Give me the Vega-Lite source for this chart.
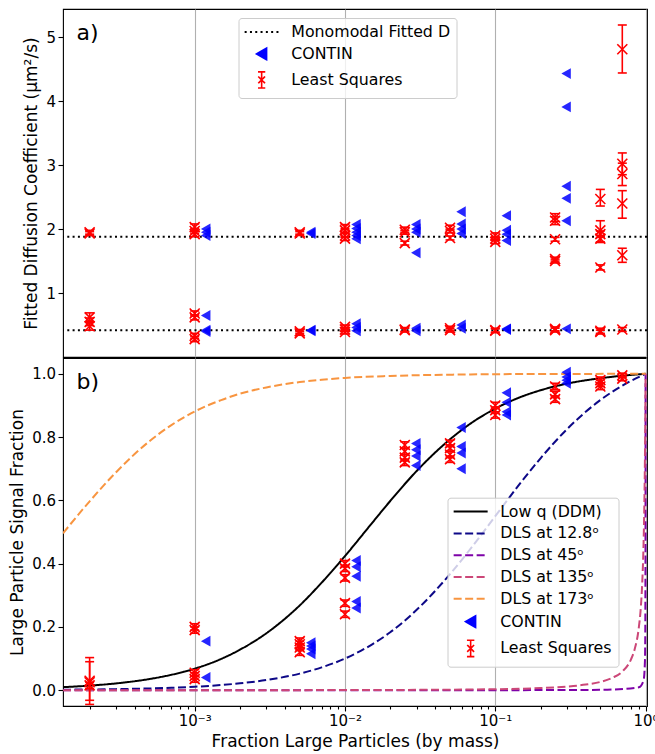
{
  "$schema": "https://vega.github.io/schema/vega-lite/v6.json",
  "background": "white",
  "padding": {"left": 8, "top": 8, "right": 5, "bottom": 5},
  "spacing": -1.1,
  "config": {
    "font": "DejaVu Sans",
    "view": {"stroke": "black", "strokeWidth": 1.1},
    "axis": {"labelFont": "DejaVu Sans", "labelFontSize": 15, "labelColor": "black", "titleFont": "DejaVu Sans", "titleFontSize": 17, "titleFontWeight": "normal", "titleColor": "black", "tickColor": "black", "tickWidth": 1.1, "tickSize": 5, "domain": false, "grid": false, "labelPadding": 2.5, "titlePadding": 5}
  },
  "datasets": {
    "mono": [
      {"series": "Monomodal Fitted D", "D": 1.88},
      {"series": "Monomodal Fitted D", "D": 0.42}
    ],
    "contA": [
      {"series": "CONTIN", "x": 0.001, "D": 2.0}, {"series": "CONTIN", "x": 0.001, "D": 1.95}, {"series": "CONTIN", "x": 0.001, "D": 1.9},
      {"series": "CONTIN", "x": 0.001, "D": 0.65}, {"series": "CONTIN", "x": 0.001, "D": 0.42}, {"series": "CONTIN", "x": 0.001, "D": 0.4},
      {"series": "CONTIN", "x": 0.005, "D": 1.95}, {"series": "CONTIN", "x": 0.005, "D": 1.93}, {"series": "CONTIN", "x": 0.005, "D": 0.42}, {"series": "CONTIN", "x": 0.005, "D": 0.41},
      {"series": "CONTIN", "x": 0.01, "D": 2.07}, {"series": "CONTIN", "x": 0.01, "D": 2.01}, {"series": "CONTIN", "x": 0.01, "D": 1.95}, {"series": "CONTIN", "x": 0.01, "D": 1.9}, {"series": "CONTIN", "x": 0.01, "D": 1.85},
      {"series": "CONTIN", "x": 0.01, "D": 0.52}, {"series": "CONTIN", "x": 0.01, "D": 0.46}, {"series": "CONTIN", "x": 0.01, "D": 0.41},
      {"series": "CONTIN", "x": 0.025, "D": 2.07}, {"series": "CONTIN", "x": 0.025, "D": 2.0}, {"series": "CONTIN", "x": 0.025, "D": 1.95}, {"series": "CONTIN", "x": 0.025, "D": 1.63},
      {"series": "CONTIN", "x": 0.025, "D": 0.45}, {"series": "CONTIN", "x": 0.025, "D": 0.41},
      {"series": "CONTIN", "x": 0.05, "D": 2.27}, {"series": "CONTIN", "x": 0.05, "D": 2.08}, {"series": "CONTIN", "x": 0.05, "D": 2.0}, {"series": "CONTIN", "x": 0.05, "D": 1.93},
      {"series": "CONTIN", "x": 0.05, "D": 0.5}, {"series": "CONTIN", "x": 0.05, "D": 0.45},
      {"series": "CONTIN", "x": 0.1, "D": 2.21}, {"series": "CONTIN", "x": 0.1, "D": 1.98}, {"series": "CONTIN", "x": 0.1, "D": 1.92}, {"series": "CONTIN", "x": 0.1, "D": 1.82},
      {"series": "CONTIN", "x": 0.1, "D": 0.44}, {"series": "CONTIN", "x": 0.1, "D": 0.43},
      {"series": "CONTIN", "x": 0.25, "D": 4.43}, {"series": "CONTIN", "x": 0.25, "D": 3.91}, {"series": "CONTIN", "x": 0.25, "D": 2.67}, {"series": "CONTIN", "x": 0.25, "D": 2.48}, {"series": "CONTIN", "x": 0.25, "D": 2.13},
      {"series": "CONTIN", "x": 0.25, "D": 0.44}
    ],
    "lsA": [
      {"series": "Least Squares", "x": 0.0002, "D": 1.95, "lo": 1.92, "hi": 1.98},
      {"series": "Least Squares", "x": 0.0002, "D": 1.93, "lo": 1.9, "hi": 1.96},
      {"series": "Least Squares", "x": 0.0002, "D": 0.62, "lo": 0.55, "hi": 0.69},
      {"series": "Least Squares", "x": 0.0002, "D": 0.55, "lo": 0.49, "hi": 0.61},
      {"series": "Least Squares", "x": 0.0002, "D": 0.48, "lo": 0.42, "hi": 0.54},
      {"series": "Least Squares", "x": 0.001, "D": 2.03, "lo": 1.98, "hi": 2.08},
      {"series": "Least Squares", "x": 0.001, "D": 1.97, "lo": 1.93, "hi": 2.01},
      {"series": "Least Squares", "x": 0.001, "D": 1.92, "lo": 1.88, "hi": 1.96},
      {"series": "Least Squares", "x": 0.001, "D": 0.68, "lo": 0.64, "hi": 0.72},
      {"series": "Least Squares", "x": 0.001, "D": 0.62, "lo": 0.58, "hi": 0.66},
      {"series": "Least Squares", "x": 0.001, "D": 0.33, "lo": 0.29, "hi": 0.37},
      {"series": "Least Squares", "x": 0.001, "D": 0.28, "lo": 0.24, "hi": 0.32},
      {"series": "Least Squares", "x": 0.005, "D": 1.95, "lo": 1.92, "hi": 1.98},
      {"series": "Least Squares", "x": 0.005, "D": 1.93, "lo": 1.9, "hi": 1.96},
      {"series": "Least Squares", "x": 0.005, "D": 0.4, "lo": 0.37, "hi": 0.43},
      {"series": "Least Squares", "x": 0.005, "D": 0.37, "lo": 0.34, "hi": 0.4},
      {"series": "Least Squares", "x": 0.01, "D": 2.03, "lo": 1.99, "hi": 2.07},
      {"series": "Least Squares", "x": 0.01, "D": 1.98, "lo": 1.95, "hi": 2.01},
      {"series": "Least Squares", "x": 0.01, "D": 1.9, "lo": 1.87, "hi": 1.93},
      {"series": "Least Squares", "x": 0.01, "D": 1.85, "lo": 1.82, "hi": 1.88},
      {"series": "Least Squares", "x": 0.01, "D": 0.47, "lo": 0.44, "hi": 0.5},
      {"series": "Least Squares", "x": 0.01, "D": 0.43, "lo": 0.4, "hi": 0.46},
      {"series": "Least Squares", "x": 0.01, "D": 0.39, "lo": 0.36, "hi": 0.42},
      {"series": "Least Squares", "x": 0.025, "D": 1.99, "lo": 1.95, "hi": 2.03},
      {"series": "Least Squares", "x": 0.025, "D": 1.95, "lo": 1.92, "hi": 1.98},
      {"series": "Least Squares", "x": 0.025, "D": 1.78, "lo": 1.75, "hi": 1.81},
      {"series": "Least Squares", "x": 0.025, "D": 0.43, "lo": 0.4, "hi": 0.46},
      {"series": "Least Squares", "x": 0.025, "D": 0.42, "lo": 0.39, "hi": 0.45},
      {"series": "Least Squares", "x": 0.05, "D": 2.02, "lo": 1.98, "hi": 2.06},
      {"series": "Least Squares", "x": 0.05, "D": 1.97, "lo": 1.94, "hi": 2.0},
      {"series": "Least Squares", "x": 0.05, "D": 1.86, "lo": 1.83, "hi": 1.89},
      {"series": "Least Squares", "x": 0.05, "D": 0.45, "lo": 0.42, "hi": 0.48},
      {"series": "Least Squares", "x": 0.05, "D": 0.42, "lo": 0.39, "hi": 0.45},
      {"series": "Least Squares", "x": 0.1, "D": 1.9, "lo": 1.86, "hi": 1.94},
      {"series": "Least Squares", "x": 0.1, "D": 1.85, "lo": 1.82, "hi": 1.88},
      {"series": "Least Squares", "x": 0.1, "D": 1.8, "lo": 1.77, "hi": 1.83},
      {"series": "Least Squares", "x": 0.1, "D": 0.42, "lo": 0.39, "hi": 0.45},
      {"series": "Least Squares", "x": 0.1, "D": 0.41, "lo": 0.38, "hi": 0.44},
      {"series": "Least Squares", "x": 0.25, "D": 2.18, "lo": 2.12, "hi": 2.24},
      {"series": "Least Squares", "x": 0.25, "D": 2.13, "lo": 2.07, "hi": 2.19},
      {"series": "Least Squares", "x": 0.25, "D": 1.84, "lo": 1.81, "hi": 1.87},
      {"series": "Least Squares", "x": 0.25, "D": 1.53, "lo": 1.5, "hi": 1.56},
      {"series": "Least Squares", "x": 0.25, "D": 1.5, "lo": 1.47, "hi": 1.53},
      {"series": "Least Squares", "x": 0.25, "D": 0.44, "lo": 0.41, "hi": 0.47},
      {"series": "Least Squares", "x": 0.25, "D": 0.42, "lo": 0.39, "hi": 0.45},
      {"series": "Least Squares", "x": 0.5, "D": 2.47, "lo": 2.36, "hi": 2.62},
      {"series": "Least Squares", "x": 0.5, "D": 1.98, "lo": 1.79, "hi": 2.13},
      {"series": "Least Squares", "x": 0.5, "D": 1.92, "lo": 1.87, "hi": 1.97},
      {"series": "Least Squares", "x": 0.5, "D": 1.85, "lo": 1.8, "hi": 1.9},
      {"series": "Least Squares", "x": 0.5, "D": 1.4, "lo": 1.36, "hi": 1.44},
      {"series": "Least Squares", "x": 0.5, "D": 0.41, "lo": 0.37, "hi": 0.45},
      {"series": "Least Squares", "x": 0.5, "D": 0.39, "lo": 0.36, "hi": 0.42},
      {"series": "Least Squares", "x": 0.7, "D": 4.81, "lo": 4.44, "hi": 5.19},
      {"series": "Least Squares", "x": 0.7, "D": 3.02, "lo": 2.85, "hi": 3.19},
      {"series": "Least Squares", "x": 0.7, "D": 2.86, "lo": 2.68, "hi": 3.03},
      {"series": "Least Squares", "x": 0.7, "D": 2.4, "lo": 2.17, "hi": 2.6},
      {"series": "Least Squares", "x": 0.7, "D": 1.59, "lo": 1.48, "hi": 1.7},
      {"series": "Least Squares", "x": 0.7, "D": 0.43, "lo": 0.4, "hi": 0.46}
    ],
    "curves": [
      {"series": "Low q (DDM)", "x": 0.000133, "f": 0.0096}, {"series": "Low q (DDM)", "x": 0.0002, "f": 0.0144},
      {"series": "Low q (DDM)", "x": 0.0003, "f": 0.0214}, {"series": "Low q (DDM)", "x": 0.0005, "f": 0.0352},
      {"series": "Low q (DDM)", "x": 0.0007, "f": 0.0487}, {"series": "Low q (DDM)", "x": 0.001, "f": 0.068},
      {"series": "Low q (DDM)", "x": 0.0015, "f": 0.0988}, {"series": "Low q (DDM)", "x": 0.002, "f": 0.128},
      {"series": "Low q (DDM)", "x": 0.003, "f": 0.18}, {"series": "Low q (DDM)", "x": 0.005, "f": 0.268},
      {"series": "Low q (DDM)", "x": 0.007, "f": 0.34}, {"series": "Low q (DDM)", "x": 0.01, "f": 0.424},
      {"series": "Low q (DDM)", "x": 0.015, "f": 0.526}, {"series": "Low q (DDM)", "x": 0.02, "f": 0.598},
      {"series": "Low q (DDM)", "x": 0.03, "f": 0.693}, {"series": "Low q (DDM)", "x": 0.05, "f": 0.793},
      {"series": "Low q (DDM)", "x": 0.07, "f": 0.846}, {"series": "Low q (DDM)", "x": 0.1, "f": 0.89},
      {"series": "Low q (DDM)", "x": 0.15, "f": 0.928}, {"series": "Low q (DDM)", "x": 0.2, "f": 0.948},
      {"series": "Low q (DDM)", "x": 0.3, "f": 0.969}, {"series": "Low q (DDM)", "x": 0.5, "f": 0.986},
      {"series": "Low q (DDM)", "x": 0.7, "f": 0.994}, {"series": "Low q (DDM)", "x": 1, "f": 1},
      {"series": "DLS at 12.8ᵒ", "x": 0.000133, "f": 0.0015}, {"series": "DLS at 12.8ᵒ", "x": 0.0002, "f": 0.0022},
      {"series": "DLS at 12.8ᵒ", "x": 0.0003, "f": 0.0033}, {"series": "DLS at 12.8ᵒ", "x": 0.0005, "f": 0.0055},
      {"series": "DLS at 12.8ᵒ", "x": 0.0007, "f": 0.0077}, {"series": "DLS at 12.8ᵒ", "x": 0.001, "f": 0.0109},
      {"series": "DLS at 12.8ᵒ", "x": 0.0015, "f": 0.0163}, {"series": "DLS at 12.8ᵒ", "x": 0.002, "f": 0.0216},
      {"series": "DLS at 12.8ᵒ", "x": 0.003, "f": 0.032}, {"series": "DLS at 12.8ᵒ", "x": 0.005, "f": 0.0524},
      {"series": "DLS at 12.8ᵒ", "x": 0.007, "f": 0.0721}, {"series": "DLS at 12.8ᵒ", "x": 0.01, "f": 0.1},
      {"series": "DLS at 12.8ᵒ", "x": 0.015, "f": 0.1435}, {"series": "DLS at 12.8ᵒ", "x": 0.02, "f": 0.183},
      {"series": "DLS at 12.8ᵒ", "x": 0.03, "f": 0.254}, {"series": "DLS at 12.8ᵒ", "x": 0.05, "f": 0.367},
      {"series": "DLS at 12.8ᵒ", "x": 0.07, "f": 0.453}, {"series": "DLS at 12.8ᵒ", "x": 0.1, "f": 0.55},
      {"series": "DLS at 12.8ᵒ", "x": 0.15, "f": 0.66}, {"series": "DLS at 12.8ᵒ", "x": 0.2, "f": 0.733},
      {"series": "DLS at 12.8ᵒ", "x": 0.3, "f": 0.825}, {"series": "DLS at 12.8ᵒ", "x": 0.5, "f": 0.917},
      {"series": "DLS at 12.8ᵒ", "x": 0.7, "f": 0.9625}, {"series": "DLS at 12.8ᵒ", "x": 1, "f": 1},
      {"series": "DLS at 45ᵒ", "x": 0.000133, "f": 0}, {"series": "DLS at 45ᵒ", "x": 0.1, "f": 0.0001},
      {"series": "DLS at 45ᵒ", "x": 0.5, "f": 0.001}, {"series": "DLS at 45ᵒ", "x": 0.9, "f": 0.0089},
      {"series": "DLS at 45ᵒ", "x": 0.97, "f": 0.031}, {"series": "DLS at 45ᵒ", "x": 0.99, "f": 0.09},
      {"series": "DLS at 45ᵒ", "x": 0.995, "f": 0.166}, {"series": "DLS at 45ᵒ", "x": 0.999, "f": 0.5},
      {"series": "DLS at 45ᵒ", "x": 0.9995, "f": 0.67}, {"series": "DLS at 45ᵒ", "x": 1, "f": 1},
      {"series": "DLS at 135ᵒ", "x": 0.000133, "f": 0}, {"series": "DLS at 135ᵒ", "x": 0.001, "f": 0.00003},
      {"series": "DLS at 135ᵒ", "x": 0.01, "f": 0.0003}, {"series": "DLS at 135ᵒ", "x": 0.1, "f": 0.003},
      {"series": "DLS at 135ᵒ", "x": 0.2, "f": 0.0067}, {"series": "DLS at 135ᵒ", "x": 0.3, "f": 0.0114},
      {"series": "DLS at 135ᵒ", "x": 0.4, "f": 0.0177}, {"series": "DLS at 135ᵒ", "x": 0.5, "f": 0.026},
      {"series": "DLS at 135ᵒ", "x": 0.6, "f": 0.039}, {"series": "DLS at 135ᵒ", "x": 0.7, "f": 0.059},
      {"series": "DLS at 135ᵒ", "x": 0.8, "f": 0.0975}, {"series": "DLS at 135ᵒ", "x": 0.85, "f": 0.133},
      {"series": "DLS at 135ᵒ", "x": 0.9, "f": 0.195}, {"series": "DLS at 135ᵒ", "x": 0.93, "f": 0.263},
      {"series": "DLS at 135ᵒ", "x": 0.95, "f": 0.339}, {"series": "DLS at 135ᵒ", "x": 0.97, "f": 0.466},
      {"series": "DLS at 135ᵒ", "x": 0.98, "f": 0.57}, {"series": "DLS at 135ᵒ", "x": 0.99, "f": 0.728},
      {"series": "DLS at 135ᵒ", "x": 0.995, "f": 0.843}, {"series": "DLS at 135ᵒ", "x": 1, "f": 1},
      {"series": "DLS at 173ᵒ", "x": 0.000133, "f": 0.496}, {"series": "DLS at 173ᵒ", "x": 0.0002, "f": 0.597},
      {"series": "DLS at 173ᵒ", "x": 0.0003, "f": 0.689}, {"series": "DLS at 173ᵒ", "x": 0.0005, "f": 0.787},
      {"series": "DLS at 173ᵒ", "x": 0.0007, "f": 0.838}, {"series": "DLS at 173ᵒ", "x": 0.001, "f": 0.881},
      {"series": "DLS at 173ᵒ", "x": 0.0015, "f": 0.917}, {"series": "DLS at 173ᵒ", "x": 0.002, "f": 0.937},
      {"series": "DLS at 173ᵒ", "x": 0.003, "f": 0.957}, {"series": "DLS at 173ᵒ", "x": 0.005, "f": 0.974},
      {"series": "DLS at 173ᵒ", "x": 0.007, "f": 0.981}, {"series": "DLS at 173ᵒ", "x": 0.01, "f": 0.987},
      {"series": "DLS at 173ᵒ", "x": 0.02, "f": 0.9933}, {"series": "DLS at 173ᵒ", "x": 0.05, "f": 0.9973},
      {"series": "DLS at 173ᵒ", "x": 0.1, "f": 0.9988}, {"series": "DLS at 173ᵒ", "x": 0.3, "f": 0.9996},
      {"series": "DLS at 173ᵒ", "x": 1, "f": 1}
    ],
    "contB": [
      {"series": "CONTIN", "x": 0.001, "f": 0.155}, {"series": "CONTIN", "x": 0.001, "f": 0.04},
      {"series": "CONTIN", "x": 0.005, "f": 0.15}, {"series": "CONTIN", "x": 0.005, "f": 0.14}, {"series": "CONTIN", "x": 0.005, "f": 0.13}, {"series": "CONTIN", "x": 0.005, "f": 0.115},
      {"series": "CONTIN", "x": 0.01, "f": 0.41}, {"series": "CONTIN", "x": 0.01, "f": 0.39}, {"series": "CONTIN", "x": 0.01, "f": 0.36}, {"series": "CONTIN", "x": 0.01, "f": 0.28}, {"series": "CONTIN", "x": 0.01, "f": 0.26},
      {"series": "CONTIN", "x": 0.025, "f": 0.78}, {"series": "CONTIN", "x": 0.025, "f": 0.76}, {"series": "CONTIN", "x": 0.025, "f": 0.74}, {"series": "CONTIN", "x": 0.025, "f": 0.71},
      {"series": "CONTIN", "x": 0.05, "f": 0.83}, {"series": "CONTIN", "x": 0.05, "f": 0.77}, {"series": "CONTIN", "x": 0.05, "f": 0.75}, {"series": "CONTIN", "x": 0.05, "f": 0.7},
      {"series": "CONTIN", "x": 0.1, "f": 0.94}, {"series": "CONTIN", "x": 0.1, "f": 0.91}, {"series": "CONTIN", "x": 0.1, "f": 0.88}, {"series": "CONTIN", "x": 0.1, "f": 0.87},
      {"series": "CONTIN", "x": 0.25, "f": 1.005}, {"series": "CONTIN", "x": 0.25, "f": 0.99}, {"series": "CONTIN", "x": 0.25, "f": 0.98}, {"series": "CONTIN", "x": 0.25, "f": 0.97}
    ],
    "lsB": [
      {"series": "Least Squares", "x": 0.0002, "f": 0.03, "lo": -0.045, "hi": 0.103},
      {"series": "Least Squares", "x": 0.0002, "f": 0.025, "lo": -0.032, "hi": 0.09},
      {"series": "Least Squares", "x": 0.0002, "f": 0.015, "lo": 0.005, "hi": 0.025},
      {"series": "Least Squares", "x": 0.001, "f": 0.2, "lo": 0.19, "hi": 0.21},
      {"series": "Least Squares", "x": 0.001, "f": 0.19, "lo": 0.18, "hi": 0.2},
      {"series": "Least Squares", "x": 0.001, "f": 0.055, "lo": 0.045, "hi": 0.065},
      {"series": "Least Squares", "x": 0.001, "f": 0.045, "lo": 0.035, "hi": 0.055},
      {"series": "Least Squares", "x": 0.001, "f": 0.035, "lo": 0.025, "hi": 0.045},
      {"series": "Least Squares", "x": 0.005, "f": 0.155, "lo": 0.145, "hi": 0.165},
      {"series": "Least Squares", "x": 0.005, "f": 0.145, "lo": 0.135, "hi": 0.155},
      {"series": "Least Squares", "x": 0.005, "f": 0.135, "lo": 0.125, "hi": 0.145},
      {"series": "Least Squares", "x": 0.005, "f": 0.12, "lo": 0.11, "hi": 0.13},
      {"series": "Least Squares", "x": 0.01, "f": 0.4, "lo": 0.39, "hi": 0.41},
      {"series": "Least Squares", "x": 0.01, "f": 0.385, "lo": 0.375, "hi": 0.395},
      {"series": "Least Squares", "x": 0.01, "f": 0.355, "lo": 0.345, "hi": 0.365},
      {"series": "Least Squares", "x": 0.01, "f": 0.275, "lo": 0.265, "hi": 0.285},
      {"series": "Least Squares", "x": 0.01, "f": 0.24, "lo": 0.23, "hi": 0.25},
      {"series": "Least Squares", "x": 0.025, "f": 0.775, "lo": 0.765, "hi": 0.785},
      {"series": "Least Squares", "x": 0.025, "f": 0.755, "lo": 0.745, "hi": 0.765},
      {"series": "Least Squares", "x": 0.025, "f": 0.735, "lo": 0.725, "hi": 0.745},
      {"series": "Least Squares", "x": 0.025, "f": 0.72, "lo": 0.71, "hi": 0.73},
      {"series": "Least Squares", "x": 0.05, "f": 0.78, "lo": 0.77, "hi": 0.79},
      {"series": "Least Squares", "x": 0.05, "f": 0.765, "lo": 0.755, "hi": 0.775},
      {"series": "Least Squares", "x": 0.05, "f": 0.745, "lo": 0.735, "hi": 0.755},
      {"series": "Least Squares", "x": 0.05, "f": 0.73, "lo": 0.72, "hi": 0.74},
      {"series": "Least Squares", "x": 0.1, "f": 0.9, "lo": 0.89, "hi": 0.91},
      {"series": "Least Squares", "x": 0.1, "f": 0.885, "lo": 0.875, "hi": 0.895},
      {"series": "Least Squares", "x": 0.1, "f": 0.87, "lo": 0.86, "hi": 0.88},
      {"series": "Least Squares", "x": 0.25, "f": 0.96, "lo": 0.95, "hi": 0.97},
      {"series": "Least Squares", "x": 0.25, "f": 0.935, "lo": 0.925, "hi": 0.945},
      {"series": "Least Squares", "x": 0.25, "f": 0.92, "lo": 0.91, "hi": 0.93},
      {"series": "Least Squares", "x": 0.5, "f": 0.98, "lo": 0.97, "hi": 0.99},
      {"series": "Least Squares", "x": 0.5, "f": 0.97, "lo": 0.96, "hi": 0.98},
      {"series": "Least Squares", "x": 0.5, "f": 0.96, "lo": 0.95, "hi": 0.97},
      {"series": "Least Squares", "x": 0.7, "f": 0.995, "lo": 0.988, "hi": 1.002},
      {"series": "Least Squares", "x": 0.7, "f": 0.985, "lo": 0.978, "hi": 0.992}
    ]
  },
  "resolve": {"scale": {"x": "independent", "y": "independent", "color": "independent"}},
  "vconcat": [
    {
      "width": 584,
      "height": 348,
      "layer": [
        {
          "data": {"name": "mono"},
          "mark": {"type": "rule", "strokeDash": [2, 3.3], "strokeWidth": 2},
          "encoding": {
            "y": {"field": "D", "type": "quantitative", "scale": {"domain": [0, 5.44], "nice": false, "zero": false}, "axis": {"values": [1, 2, 3, 4, 5], "format": "d", "title": "Fitted Diffusion Coefficient (μm²/s)"}},
            "color": {"field": "series", "type": "nominal", "scale": {"domain": ["Monomodal Fitted D", "CONTIN", "Least Squares"], "range": ["black", "#0000ff", "#ff0000"]},
              "legend": {"orient": "none", "legendX": 175.5, "legendY": 9, "title": null, "symbolSize": 1156, "symbolOffset": 9.25, "labelOffset": 21.75, "labelFontSize": 15.8, "labelFont": "DejaVu Sans", "labelColor": "black", "padding": 6, "rowPadding": 4, "strokeColor": "#cccccc", "fillColor": "rgba(255,255,255,0.8)", "cornerRadius": 3, "labelLimit": 400,
                "encode": {"symbols": {"update": {
                  "shape": {"signal": "datum.value === 'CONTIN' ? 'triangle-left' : datum.value === 'Least Squares' ? 'M0,-1L0,1M-0.45,-1L0.45,-1M-0.45,1L0.45,1M-0.42,-0.42L0.42,0.42M-0.42,0.42L0.42,-0.42' : 'stroke'"},
                  "size": {"signal": "datum.value === 'CONTIN' ? 120 : datum.value === 'Least Squares' ? 260 : 1156"},
                  "fill": {"signal": "datum.value === 'CONTIN' ? '#0000ff' : 'transparent'"},
                  "stroke": {"signal": "datum.value === 'CONTIN' ? 'transparent' : datum.value === 'Least Squares' ? '#ff0000' : 'black'"},
                  "strokeDash": {"signal": "datum.value === 'Monomodal Fitted D' ? [2, 3.3] : [1, 0]"},
                  "strokeWidth": {"signal": "datum.value === 'Least Squares' ? 1.6 : 2"},
                  "opacity": {"value": 1}
                }}}
              }
            }
          }
        },
        {
          "data": {"name": "contA"},
          "mark": {"type": "point", "shape": "triangle-left", "filled": true, "size": 120, "opacity": 0.85},
          "encoding": {
            "x": {"field": "x", "type": "quantitative", "scale": {"type": "log", "domain": [0.000133, 1.022], "nice": false}, "axis": {"values": [0.001, 0.01, 0.1, 1], "grid": true, "gridColor": "#b0b0b0", "gridWidth": 1.1, "labels": false, "ticks": false, "domain": false, "title": null}},
            "xOffset": {"value": 11},
            "y": {"field": "D", "type": "quantitative", "scale": {"domain": [0, 5.44], "nice": false, "zero": false}, "axis": {"values": [1, 2, 3, 4, 5], "format": "d", "title": "Fitted Diffusion Coefficient (μm²/s)"}},
            "color": {"field": "series", "type": "nominal", "scale": {"domain": ["Monomodal Fitted D", "CONTIN", "Least Squares"], "range": ["black", "#0000ff", "#ff0000"]}}
          }
        },
        {
          "data": {"name": "lsA"},
          "mark": {"type": "rule", "strokeWidth": 1.6},
          "encoding": {
            "x": {"field": "x", "type": "quantitative", "scale": {"type": "log", "domain": [0.000133, 1.022], "nice": false}, "axis": {"values": [0.001, 0.01, 0.1, 1], "grid": true, "gridColor": "#b0b0b0", "gridWidth": 1.1, "labels": false, "ticks": false, "domain": false, "title": null}},
            "y": {"field": "lo", "type": "quantitative", "scale": {"domain": [0, 5.44], "nice": false, "zero": false}, "axis": {"values": [1, 2, 3, 4, 5], "format": "d", "title": "Fitted Diffusion Coefficient (μm²/s)"}},
            "y2": {"field": "hi"},
            "color": {"field": "series", "type": "nominal", "scale": {"domain": ["Monomodal Fitted D", "CONTIN", "Least Squares"], "range": ["black", "#0000ff", "#ff0000"]}}
          }
        },
        {
          "data": {"name": "lsA"},
          "mark": {"type": "tick", "orient": "horizontal", "size": 9, "thickness": 1.6, "opacity": 1},
          "encoding": {
            "x": {"field": "x", "type": "quantitative", "scale": {"type": "log", "domain": [0.000133, 1.022], "nice": false}, "axis": {"values": [0.001, 0.01, 0.1, 1], "grid": true, "gridColor": "#b0b0b0", "gridWidth": 1.1, "labels": false, "ticks": false, "domain": false, "title": null}},
            "y": {"field": "lo", "type": "quantitative", "scale": {"domain": [0, 5.44], "nice": false, "zero": false}, "axis": {"values": [1, 2, 3, 4, 5], "format": "d", "title": "Fitted Diffusion Coefficient (μm²/s)"}},
            "color": {"field": "series", "type": "nominal", "scale": {"domain": ["Monomodal Fitted D", "CONTIN", "Least Squares"], "range": ["black", "#0000ff", "#ff0000"]}}
          }
        },
        {
          "data": {"name": "lsA"},
          "mark": {"type": "tick", "orient": "horizontal", "size": 9, "thickness": 1.6, "opacity": 1},
          "encoding": {
            "x": {"field": "x", "type": "quantitative", "scale": {"type": "log", "domain": [0.000133, 1.022], "nice": false}, "axis": {"values": [0.001, 0.01, 0.1, 1], "grid": true, "gridColor": "#b0b0b0", "gridWidth": 1.1, "labels": false, "ticks": false, "domain": false, "title": null}},
            "y": {"field": "hi", "type": "quantitative", "scale": {"domain": [0, 5.44], "nice": false, "zero": false}, "axis": {"values": [1, 2, 3, 4, 5], "format": "d", "title": "Fitted Diffusion Coefficient (μm²/s)"}},
            "color": {"field": "series", "type": "nominal", "scale": {"domain": ["Monomodal Fitted D", "CONTIN", "Least Squares"], "range": ["black", "#0000ff", "#ff0000"]}}
          }
        },
        {
          "data": {"name": "lsA"},
          "mark": {"type": "point", "shape": "M-1,-1L1,1M-1,1L1,-1", "filled": false, "size": 100, "strokeWidth": 1.6, "opacity": 1},
          "encoding": {
            "x": {"field": "x", "type": "quantitative", "scale": {"type": "log", "domain": [0.000133, 1.022], "nice": false}, "axis": {"values": [0.001, 0.01, 0.1, 1], "grid": true, "gridColor": "#b0b0b0", "gridWidth": 1.1, "labels": false, "ticks": false, "domain": false, "title": null}},
            "y": {"field": "D", "type": "quantitative", "scale": {"domain": [0, 5.44], "nice": false, "zero": false}, "axis": {"values": [1, 2, 3, 4, 5], "format": "d", "title": "Fitted Diffusion Coefficient (μm²/s)"}},
            "color": {"field": "series", "type": "nominal", "scale": {"domain": ["Monomodal Fitted D", "CONTIN", "Least Squares"], "range": ["black", "#0000ff", "#ff0000"]}}
          }
        },
        {
          "data": {"values": [{"label": "a)"}]},
          "mark": {"type": "text", "fontSize": 22, "font": "DejaVu Sans", "align": "left", "baseline": "alphabetic", "color": "black"},
          "encoding": {
            "x": {"datum": 0.0001637, "type": "quantitative", "scale": {"type": "log", "domain": [0.000133, 1.022], "nice": false}},
            "y": {"datum": 4.95, "type": "quantitative", "scale": {"domain": [0, 5.44], "nice": false, "zero": false}},
            "text": {"field": "label"}
          }
        }
      ]
    },
    {
      "width": 584,
      "height": 348,
      "layer": [
        {
          "data": {"name": "curves"},
          "mark": {"type": "line", "strokeWidth": 2, "clip": true, "interpolate": "monotone"},
          "encoding": {
            "x": {"field": "x", "type": "quantitative", "scale": {"type": "log", "domain": [0.000133, 1.022], "nice": false},
              "axis": {"values": [0.0002, 0.0003, 0.0004, 0.0005, 0.0006, 0.0007, 0.0008, 0.0009, 0.001, 0.002, 0.003, 0.004, 0.005, 0.006, 0.007, 0.008, 0.009, 0.01, 0.02, 0.03, 0.04, 0.05, 0.06, 0.07, 0.08, 0.09, 0.1, 0.2, 0.3, 0.4, 0.5, 0.6, 0.7, 0.8, 0.9, 1],
                "grid": true, "gridColor": "#b0b0b0", "gridWidth": 1.1,
                "gridOpacity": {"condition": {"test": "abs(log(datum.value)/LN10 - round(log(datum.value)/LN10)) < 0.001", "value": 1}, "value": 0},
                "tickSize": {"condition": {"test": "abs(log(datum.value)/LN10 - round(log(datum.value)/LN10)) < 0.001", "value": 5}, "value": 3},
                "labelExpr": "datum.value > 0.00099 && datum.value < 0.00101 ? '10⁻³' : datum.value > 0.0099 && datum.value < 0.0101 ? '10⁻²' : datum.value > 0.099 && datum.value < 0.101 ? '10⁻¹' : datum.value > 0.99 && datum.value < 1.01 ? '10⁰' : ''",
                "labelOverlap": false, "labelFlush": false, "labelBound": false, "domain": false, "title": "Fraction Large Particles (by mass)"}},
            "y": {"field": "f", "type": "quantitative", "scale": {"domain": [-0.05, 1.05], "nice": false, "zero": false}, "axis": {"values": [0, 0.2, 0.4, 0.6, 0.8, 1], "format": ".1f", "title": "Large Particle Signal Fraction"}},
            "strokeDash": {"field": "series", "type": "nominal", "scale": {"domain": ["Low q (DDM)", "DLS at 12.8ᵒ", "DLS at 45ᵒ", "DLS at 135ᵒ", "DLS at 173ᵒ"], "range": [[1, 0], [8, 3.5], [8, 3.5], [8, 3.5], [8, 3.5]]}, "legend": null},
            "color": {"field": "series", "type": "nominal", "scale": {"domain": ["Low q (DDM)", "DLS at 12.8ᵒ", "DLS at 45ᵒ", "DLS at 135ᵒ", "DLS at 173ᵒ", "CONTIN", "Least Squares"], "range": ["black", "#0d0887", "#7e03a8", "#cc4778", "#f89540", "#0000ff", "#ff0000"]},
              "legend": {"orient": "none", "legendX": 384.5, "legendY": 139.7, "title": null, "symbolSize": 1156, "symbolOffset": 9.25, "labelOffset": 21.75, "labelFontSize": 15.8, "labelFont": "DejaVu Sans", "labelColor": "black", "padding": 6, "rowPadding": 4.8, "strokeColor": "#cccccc", "fillColor": "rgba(255,255,255,0.8)", "cornerRadius": 3, "labelLimit": 400,
                "encode": {"symbols": {"update": {
                  "shape": {"signal": "datum.value === 'CONTIN' ? 'triangle-left' : datum.value === 'Least Squares' ? 'M0,-1L0,1M-0.45,-1L0.45,-1M-0.45,1L0.45,1M-0.42,-0.42L0.42,0.42M-0.42,0.42L0.42,-0.42' : 'stroke'"},
                  "size": {"signal": "datum.value === 'CONTIN' ? 120 : datum.value === 'Least Squares' ? 270 : 1156"},
                  "fill": {"signal": "datum.value === 'CONTIN' ? '#0000ff' : 'transparent'"},
                  "stroke": {"signal": "datum.value === 'Low q (DDM)' ? 'black' : datum.value === 'DLS at 12.8ᵒ' ? '#0d0887' : datum.value === 'DLS at 45ᵒ' ? '#7e03a8' : datum.value === 'DLS at 135ᵒ' ? '#cc4778' : datum.value === 'DLS at 173ᵒ' ? '#f89540' : datum.value === 'CONTIN' ? 'transparent' : '#ff0000'"},
                  "strokeDash": {"signal": "indexof(datum.value, 'DLS') === 0 ? [8, 3.5] : [1, 0]"},
                  "strokeWidth": {"signal": "datum.value === 'Least Squares' ? 1.6 : 2"},
                  "opacity": {"value": 1}
                }}}
              }
            }
          }
        },
        {
          "data": {"name": "contB"},
          "mark": {"type": "point", "shape": "triangle-left", "filled": true, "size": 120, "opacity": 0.85},
          "encoding": {
            "x": {"field": "x", "type": "quantitative", "scale": {"type": "log", "domain": [0.000133, 1.022], "nice": false}},
            "xOffset": {"value": 11},
            "y": {"field": "f", "type": "quantitative", "scale": {"domain": [-0.05, 1.05], "nice": false, "zero": false}},
            "color": {"field": "series", "type": "nominal", "scale": {"domain": ["Low q (DDM)", "DLS at 12.8ᵒ", "DLS at 45ᵒ", "DLS at 135ᵒ", "DLS at 173ᵒ", "CONTIN", "Least Squares"], "range": ["black", "#0d0887", "#7e03a8", "#cc4778", "#f89540", "#0000ff", "#ff0000"]}}
          }
        },
        {
          "data": {"name": "lsB"},
          "mark": {"type": "rule", "strokeWidth": 1.6},
          "encoding": {
            "x": {"field": "x", "type": "quantitative", "scale": {"type": "log", "domain": [0.000133, 1.022], "nice": false}},
            "y": {"field": "lo", "type": "quantitative", "scale": {"domain": [-0.05, 1.05], "nice": false, "zero": false}},
            "y2": {"field": "hi"},
            "color": {"field": "series", "type": "nominal", "scale": {"domain": ["Low q (DDM)", "DLS at 12.8ᵒ", "DLS at 45ᵒ", "DLS at 135ᵒ", "DLS at 173ᵒ", "CONTIN", "Least Squares"], "range": ["black", "#0d0887", "#7e03a8", "#cc4778", "#f89540", "#0000ff", "#ff0000"]}}
          }
        },
        {
          "data": {"name": "lsB"},
          "mark": {"type": "tick", "orient": "horizontal", "size": 9, "thickness": 1.6, "opacity": 1},
          "encoding": {
            "x": {"field": "x", "type": "quantitative", "scale": {"type": "log", "domain": [0.000133, 1.022], "nice": false}},
            "y": {"field": "lo", "type": "quantitative", "scale": {"domain": [-0.05, 1.05], "nice": false, "zero": false}},
            "color": {"field": "series", "type": "nominal", "scale": {"domain": ["Low q (DDM)", "DLS at 12.8ᵒ", "DLS at 45ᵒ", "DLS at 135ᵒ", "DLS at 173ᵒ", "CONTIN", "Least Squares"], "range": ["black", "#0d0887", "#7e03a8", "#cc4778", "#f89540", "#0000ff", "#ff0000"]}}
          }
        },
        {
          "data": {"name": "lsB"},
          "mark": {"type": "tick", "orient": "horizontal", "size": 9, "thickness": 1.6, "opacity": 1},
          "encoding": {
            "x": {"field": "x", "type": "quantitative", "scale": {"type": "log", "domain": [0.000133, 1.022], "nice": false}},
            "y": {"field": "hi", "type": "quantitative", "scale": {"domain": [-0.05, 1.05], "nice": false, "zero": false}},
            "color": {"field": "series", "type": "nominal", "scale": {"domain": ["Low q (DDM)", "DLS at 12.8ᵒ", "DLS at 45ᵒ", "DLS at 135ᵒ", "DLS at 173ᵒ", "CONTIN", "Least Squares"], "range": ["black", "#0d0887", "#7e03a8", "#cc4778", "#f89540", "#0000ff", "#ff0000"]}}
          }
        },
        {
          "data": {"name": "lsB"},
          "mark": {"type": "point", "shape": "M-1,-1L1,1M-1,1L1,-1", "filled": false, "size": 100, "strokeWidth": 1.6, "opacity": 1},
          "encoding": {
            "x": {"field": "x", "type": "quantitative", "scale": {"type": "log", "domain": [0.000133, 1.022], "nice": false}},
            "y": {"field": "f", "type": "quantitative", "scale": {"domain": [-0.05, 1.05], "nice": false, "zero": false}},
            "color": {"field": "series", "type": "nominal", "scale": {"domain": ["Low q (DDM)", "DLS at 12.8ᵒ", "DLS at 45ᵒ", "DLS at 135ᵒ", "DLS at 173ᵒ", "CONTIN", "Least Squares"], "range": ["black", "#0d0887", "#7e03a8", "#cc4778", "#f89540", "#0000ff", "#ff0000"]}}
          }
        },
        {
          "data": {"values": [{"label": "b)"}]},
          "mark": {"type": "text", "fontSize": 22, "font": "DejaVu Sans", "align": "left", "baseline": "alphabetic", "color": "black"},
          "encoding": {
            "x": {"datum": 0.0001637, "type": "quantitative", "scale": {"type": "log", "domain": [0.000133, 1.022], "nice": false}},
            "y": {"datum": 0.952, "type": "quantitative", "scale": {"domain": [-0.05, 1.05], "nice": false, "zero": false}},
            "text": {"field": "label"}
          }
        }
      ]
    }
  ]
}
